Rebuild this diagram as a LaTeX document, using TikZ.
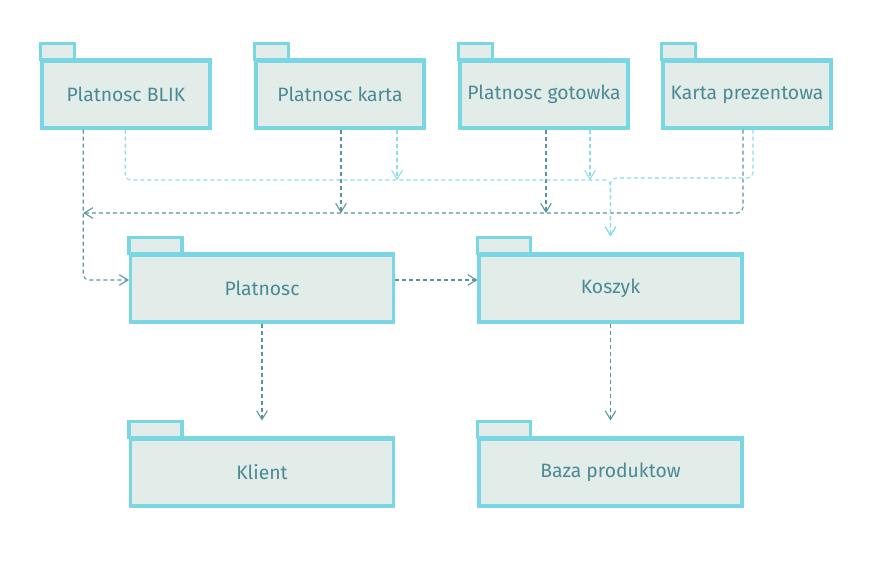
\documentclass[tikz,border=0pt]{standalone}
\usepackage{fontspec}
\setmainfont{Fira Sans}
\usetikzlibrary{arrows.meta,calc}
\definecolor{pkgborder}{RGB}{122,214,226}
\definecolor{pkgfill}{RGB}{226,236,232}
\definecolor{pkgtext}{RGB}{74,138,148}
\definecolor{dkline}{RGB}{88,148,158}
\definecolor{ltline}{RGB}{140,220,232}
\tikzset{
  body/.style={draw=pkgborder, fill=pkgfill, line width=2.6pt, inner sep=0pt,
    font=\fontsize{14.5}{17}\selectfont, text=pkgtext},
  topbody/.style={body, minimum width=126pt, minimum height=50pt},
  midbody/.style={body, minimum width=197pt, minimum height=50pt},
  tabbox/.style={draw=pkgborder, fill=pkgfill, line width=2.6pt},
  dep/.style={dash pattern=on 3pt off 2.25pt, line width=0.8pt, rounded corners=4pt,
    -{Straight Barb[length=6.5pt,width=8pt]}},
  dk/.style={dep, draw=dkline},
  lt/.style={dep, draw=ltline},
}
\newcommand{\pkgtab}[2]{% node, tab width (px)
  \draw[tabbox] ($(#1.north west)+(0,0)$) rectangle ($(#1.north west)+(#2,-16)$);
}
\begin{document}
\begin{tikzpicture}[x=0.75pt,y=-0.75pt]
\useasboundingbox (0,0) rectangle (883,574);
% top row
\node[topbody] (blik) at (126,94.5) {Platnosc BLIK};
\node[topbody] (karta) at (340,94.5) {Platnosc karta};
\node[topbody] (got) at (544,94.5) {Platnosc gotowka};
\node[topbody] (prez) at (747,94.5) {Karta prezentowa};
\node[midbody] (plat) at (262,288.5) {Platnosc};
\node[midbody] (kosz) at (610.5,288.5) {Koszyk};
\node[midbody] (kli) at (262,472.5) {Klient};
\node[midbody] (baza) at (610.5,472.5) {Baza produktow};
\pkgtab{blik}{34}
\pkgtab{karta}{34}
\pkgtab{got}{34}
\pkgtab{prez}{34}
\pkgtab{plat}{53}
\pkgtab{kosz}{53}
\pkgtab{kli}{53}
\pkgtab{baza}{53}
% redraw body top edges over tabs
\foreach \n in {blik,karta,got,prez,plat,kosz,kli,baza}{
  \draw[draw=pkgborder, line width=2.6pt] (\n.north west) -- (\n.north east);
}
% helper coordinates
\coordinate (blikA) at ($(blik.south west)+(43,0)$);
\coordinate (blikB) at ($(blik.south west)+(85,0)$);
\coordinate (kartaA) at ($(karta.south)+(1,0)$);
\coordinate (kartaB) at ($(karta.south)+(57,0)$);
\coordinate (gotA) at ($(got.south)+(2,0)$);
\coordinate (gotB) at ($(got.south)+(46,0)$);
\coordinate (prezA) at ($(prez.south)+(-4,0)$);
\coordinate (prezB) at ($(prez.south)+(6,0)$);
\coordinate (platIn) at ($(plat.west)+(0,-8.5)$);
\coordinate (platOut) at ($(plat.east)+(0,-8.5)$);
\coordinate (koszIn) at ($(kosz.west)+(0,-8.5)$);
\coordinate (koszTop) at ($(kosz.north)+(0,-17)$);
\coordinate (kliTop) at ($(kli.north)+(0,-17)$);
\coordinate (bazaTop) at ($(baza.north)+(0,-17)$);
% dark dependencies
\draw[dk] (blikA) |- (platIn);
\draw[dk] (prezA) |- (blikA |- 0,213);
\draw[dk] (kartaA) -- (kartaA |- 0,213);
\draw[dk] (gotA) -- (gotA |- 0,213);
\draw[dk] (platOut) -- (koszIn);
\draw[dk] (plat.south) -- (kliTop);
\draw[dk] (kosz.south) -- (bazaTop);
% light dependencies
\draw[lt] (blikB) |- (koszTop |- 0,180) -- (koszTop);
\draw[lt] (kartaB) -- (kartaB |- 0,180);
\draw[lt] (gotB) -- (gotB |- 0,180);
\draw[lt] (prezB) |- (koszTop |- 0,178) -- (koszTop);
\end{tikzpicture}
\end{document}
